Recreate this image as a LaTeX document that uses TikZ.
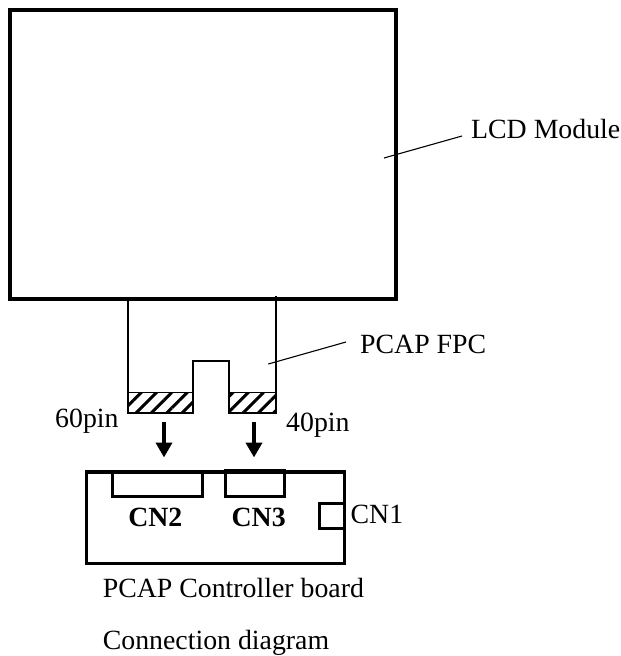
\documentclass[tikz,border=0pt]{standalone}
\usepackage{fontspec}
\setmainfont{Liberation Serif}
\usetikzlibrary{patterns.meta,arrows.meta}
\tikzset{
  lcdbox/.style={draw=black,line width=4.3pt,inner sep=0pt,outer sep=0pt,anchor=north west},
  boardbox/.style={draw=black,line width=3.2pt,inner sep=0pt,outer sep=0pt,anchor=north west},
  connbox/.style={draw=black,line width=3pt,inner sep=0pt,outer sep=0pt,anchor=north west},
  thin line/.style={draw=black,line width=1.6pt},
  leader/.style={draw=black,line width=1.1pt},
  hatchbox/.style={draw=black,line width=1.1pt,pattern={Lines[angle=45,distance=10.8pt,line width=3pt]},pattern color=black},
  blockarrow/.style={draw=black,line width=4pt,-{Triangle[length=15pt,width=16pt]}},
  lbl/.style={inner sep=0pt,anchor=base west,font=\fontsize{27.8pt}{30pt}\selectfont},
  blbl/.style={inner sep=0pt,anchor=base,font=\fontsize{27.8pt}{30pt}\selectfont\bfseries}
}
\begin{document}
\begin{tikzpicture}[x=1pt,y=-1pt]
\useasboundingbox (0,0) rectangle (621,656);
\fill[white] (0,0) rectangle (621,656);
% hatches
\path[hatchbox] (128.5,392.3) rectangle (193,412.7);
\path[hatchbox] (229,392.3) rectangle (276,412.7);
% FPC outline
\coordinate (fl) at (128,297);
\coordinate (fr) at (276,296);
\draw[thin line,line join=miter] (fl) -- (128,412.7) -- (193,412.7) -- (193,360.7) -- (229,360.7) -- (229,412.7) -- (276,412.7) -- (fr);
% LCD
\node[lcdbox,minimum width=386pt,minimum height=289pt] (lcd) at (9.7,10.3) {};
% leaders
\node[lbl] (lcdl) at (471,138) {LCD Module};
\coordinate (lcde) at (384,158);
\coordinate (lcds) at (462,136);
\draw[leader] (lcde) -- (lcds);
\node[lbl] (fpcl) at (360,353.3) {PCAP FPC};
\coordinate (fpce) at (268.3,364);
\coordinate (fpcs) at (346,342);
\draw[leader] (fpce) -- (fpcs);
% pin labels
\node[lbl] (p60) at (55,427.7) {60pin};
\node[lbl] (p40) at (286,431.7) {40pin};
% arrows
\coordinate (a1) at (164,422.3); \coordinate (a2) at (164,457.5);
\coordinate (b1) at (254,422.3); \coordinate (b2) at (254,457.5);
\draw[blockarrow] (a1) -- (a2);
\draw[blockarrow] (b1) -- (b2);
% board
\node[boardbox,minimum width=257.6pt,minimum height=91.7pt] (board) at (86.7,472) {};
\node[connbox,minimum width=89.5pt,minimum height=24pt] (cn2) at (112.7,472) {};
\node[connbox,minimum width=59pt,minimum height=25.5pt] (cn3) at (225,470.5) {};
\node[connbox,minimum width=25.3pt,minimum height=25.7pt] (cn1) at (319,503) {};
\node[blbl] (cn2l) at (155.3,526.7) {CN2};
\node[blbl] (cn3l) at (258.7,526.7) {CN3};
\node[lbl] (cn1l) at (350.5,523.3) {CN1};
\node[lbl] (t1) at (102.7,597.3) {PCAP Controller board};
\node[lbl] (t2) at (102.7,649.8) {Connection diagram};
\end{tikzpicture}
\end{document}
